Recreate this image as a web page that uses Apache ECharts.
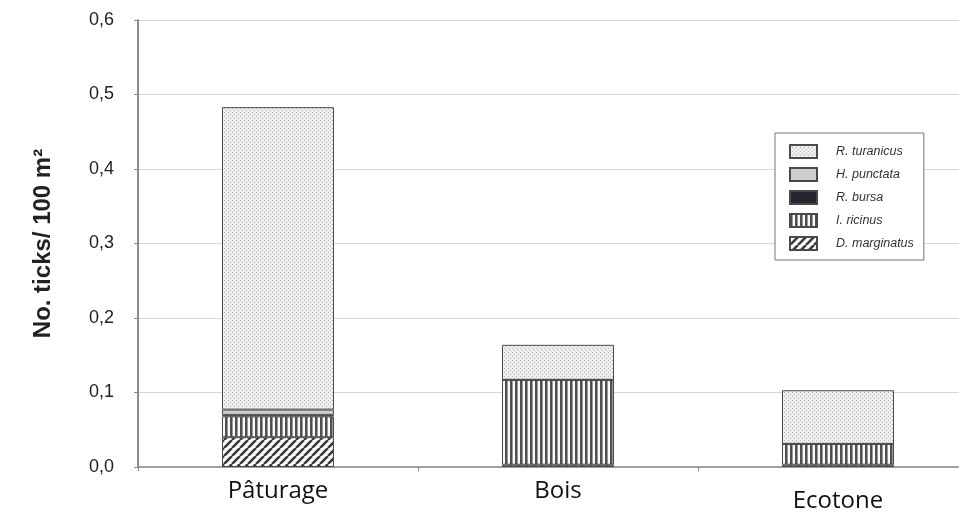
<!DOCTYPE html>
<html><head><meta charset="utf-8">
<script src="https://cdn.jsdelivr.net/npm/echarts@6/dist/echarts.min.js"></script>
<style>html,body{margin:0;padding:0;background:#fff;overflow:hidden;width:959px;height:526px}#c{width:1000px;height:526px}</style>
</head><body><div id="c"></div>
<script>
const categories = ['Pâturage', 'Bois', 'Ecotone'];
const dMarginatus = [0.040, 0.003, 0.003];
const iRicinus    = [0.028, 0.114, 0.028];
const rBursa      = [0.002, 0, 0];
const hPunctata   = [0.007, 0, 0];
const rTuranicus  = [0.406, 0.047, 0.072];
const yTicks = [0, 0.1, 0.2, 0.3, 0.4, 0.5, 0.6];

function pat(w, h, draw) {
  const c = document.createElement('canvas'); c.width = w; c.height = h;
  const g = c.getContext('2d'); draw(g, w, h);
  return { image: c, repeat: 'repeat' };
}
const dots = pat(4, 4, (g) => { g.fillStyle = '#ededed'; g.fillRect(0,0,4,4); g.fillStyle = '#b8b8b8'; g.fillRect(0,0,1,1); g.fillRect(2,2,1,1); });
const vert = pat(5, 5, (g) => { g.fillStyle = '#fafafa'; g.fillRect(0,0,5,5); g.fillStyle = '#505050'; g.fillRect(0,0,2,5); g.fillStyle='#999'; g.fillRect(2,0,1,5); });
const diag = pat(8, 8, (g) => { g.fillStyle = '#fff'; g.fillRect(0,0,8,8); g.strokeStyle = '#3a3a3a'; g.lineWidth = 2.6;
  for (let k = -8; k <= 16; k += 8) { g.beginPath(); g.moveTo(k, 8); g.lineTo(k + 8, 0); g.stroke(); } });

const mk = (name, data, color) => ({
  name, type: 'bar', stack: 't', data, barWidth: '40%',
  itemStyle: { color, borderColor: '#4a4a4a', borderWidth: 1 }
});

const chart = echarts.init(document.getElementById('c'), null, { renderer: 'canvas' });
chart.setOption({
  animation: false,
  grid: { left: 138, top: 20, width: 840, height: 447, containLabel: false },
  legend: {
    orient: 'vertical', left: 775, top: 133, width: 150,
    data: ['R. turanicus', 'H. punctata', 'R. bursa', 'I. ricinus', 'D. marginatus'],
    icon: 'rect',
    itemWidth: 27, itemHeight: 13, itemGap: 8,
    padding: [11, 10, 9, 14],
    borderColor: '#777', borderWidth: 1, backgroundColor: '#fff',
    textStyle: { fontFamily: 'Liberation Sans', fontStyle: 'italic', fontSize: 12.5, color: '#333', padding: [0,0,0,14] }
  },
  xAxis: {
    type: 'category', data: categories,
    axisLine: { lineStyle: { color: '#888', width: 1.5 } },
    axisTick: { show: true, length: 4, lineStyle: { color: '#888' } },
    axisLabel: {
      margin: 12,
      formatter: (v) => v === 'Ecotone' ? '{b|' + v + '}' : '{a|' + v + '}',
      rich: {
        a: { fontFamily: 'Open Sans', fontSize: 24, color: '#111', padding: [0,0,0,0] },
        b: { fontFamily: 'Open Sans', fontSize: 24, color: '#111', padding: [10,0,0,0] }
      }
    }
  },
  yAxis: {
    type: 'value', min: 0, max: 0.6, interval: 0.1,
    name: 'No. ticks/ 100 m²', nameLocation: 'middle', nameGap: 83, nameRotate: 90,
    nameTextStyle: { fontFamily: 'Liberation Sans', fontWeight: 'bold', fontSize: 24, color: '#222' },
    axisLine: { show: true, lineStyle: { color: '#666', width: 1.5 } },
    axisTick: { show: true, length: 4, lineStyle: { color: '#888' } },
    axisLabel: { margin: 24, fontFamily: 'Liberation Sans', fontSize: 18, color: '#222',
      formatter: (v) => v.toFixed(1).replace('.', ',') },
    splitLine: { lineStyle: { color: '#d8d8d8', width: 1.2 } }
  },
  series: [
    mk('D. marginatus', dMarginatus, diag),
    mk('I. ricinus', iRicinus, vert),
    mk('R. bursa', rBursa, '#262630'),
    mk('H. punctata', hPunctata, '#cfcfcf'),
    mk('R. turanicus', rTuranicus, dots)
  ]
});
</script></body></html>
